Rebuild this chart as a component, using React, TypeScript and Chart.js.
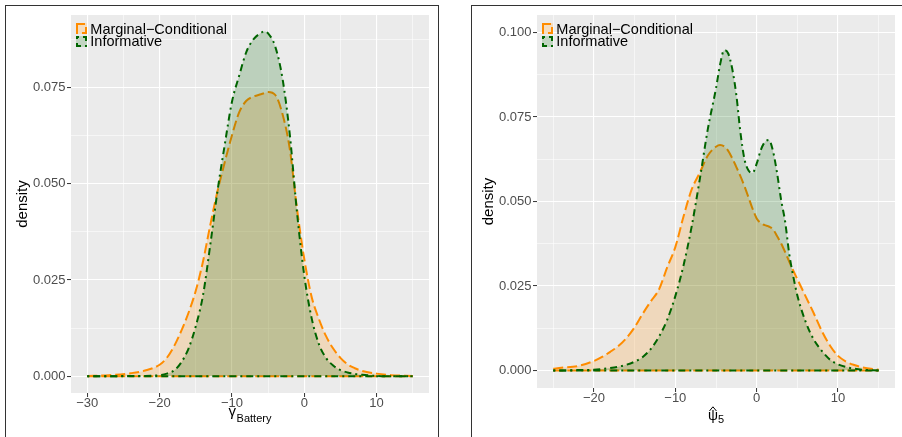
import React, { useEffect, useRef } from "react";
import { Chart, registerables } from "chart.js";

Chart.register(...registerables);

const FONT = '"Liberation Sans", Arial, Helvetica, sans-serif';
const ORANGE = "#FF8C00";
const GREEN = "#006400";
const ORANGE_FILL = "rgba(255,140,0,0.2)";
const GREEN_FILL = "rgba(0,100,0,0.2)";
const PANEL_BG = "#EBEBEB";
const TICK_TEXT = "#4D4D4D";
const TICK_MARK = "#333333";

const seriesNames = ["Marginal\u2212Conditional", "Informative"];
const orangeDash = [10, 4];
const greenDash = [2, 4, 7, 4];

// Densities of gamma_Battery
const gammaX = [
  -30, -27, -24, -22, -20, -19, -18, -17, -16, -15, -14, -13, -12, -11, -10, -9, -8, -7, -6, -5.5, -5, -4,
  -3, -2, -1, 0, 1, 2, 3, 4, 5, 6, 7, 8, 10, 12, 15,
];
const gammaMarginal = [
  0.0001, 0.0003, 0.0008, 0.0015, 0.003, 0.0048, 0.0078, 0.0118, 0.0165, 0.0222, 0.0298, 0.0392, 0.048, 0.0555,
  0.0625, 0.0685, 0.0715, 0.0726, 0.0732, 0.0735, 0.0738, 0.073, 0.068, 0.059, 0.0435, 0.0305, 0.0208, 0.015,
  0.0105, 0.0072, 0.0048, 0.0031, 0.0021, 0.0014, 0.0007, 0.0003, 0.0001,
];
const gammaInformative = [
  0.0, 0.0, 0.0001, 0.0001, 0.0003, 0.0007, 0.0015, 0.0036, 0.0072, 0.013, 0.021, 0.034, 0.048, 0.06, 0.0712,
  0.078, 0.0842, 0.0875, 0.0891, 0.0895, 0.089, 0.0855, 0.0772, 0.0628, 0.0425, 0.0262, 0.0153, 0.0085,
  0.0048, 0.0028, 0.0016, 0.001, 0.0006, 0.0004, 0.0001, 0.0, 0.0,
];
const gammaXMajor = [-30, -20, -10, 0, 10];
const gammaXMinor = [-25, -15, -5, 5, 15];
const gammaYMajor = [0, 0.025, 0.05, 0.075];
const gammaYMinor = [0.0125, 0.0375, 0.0625, 0.0875];
const gammaXRange = [-32.25, 17.25];
const gammaYRange = [-0.00433, 0.09376];

// Densities of psi-hat_5
const psiX = [
  -25, -24, -22, -20, -19, -18, -17, -16, -15, -14, -13, -12, -11, -10, -9, -8, -7, -6, -5, -4.5, -4, -3.5, -3,
  -2.5, -2, -1.5, -1, -0.5, 0, 0.5, 1, 1.5, 2, 2.5, 3, 3.5, 4, 4.5, 5, 6, 7, 8, 9, 10, 11, 12, 13, 15,
];
const psiMarginal = [
  0.0005, 0.0008, 0.0013, 0.0028, 0.004, 0.0055, 0.0072, 0.0096, 0.0128, 0.0168, 0.0205, 0.024, 0.0305, 0.0365,
  0.0455, 0.0535, 0.0585, 0.0636, 0.0662, 0.0667, 0.0663, 0.065, 0.0628, 0.0602, 0.0575, 0.0545, 0.0512, 0.0478,
  0.045, 0.0436, 0.043, 0.0426, 0.0418, 0.0398, 0.0376, 0.035, 0.0322, 0.0295, 0.027, 0.022, 0.017, 0.0117,
  0.0074, 0.0043, 0.0026, 0.0016, 0.0009, 0.0002,
];
const psiInformative = [
  0.0, 0.0, 0.0001, 0.0002, 0.0004, 0.0007, 0.0011, 0.0017, 0.0026, 0.004, 0.0064, 0.01, 0.015, 0.022, 0.031,
  0.0425, 0.0565, 0.0715, 0.0835, 0.0905, 0.0948, 0.0938, 0.0892, 0.0815, 0.0705, 0.0625, 0.0592, 0.0585,
  0.0612, 0.0652, 0.0676, 0.0682, 0.065, 0.0585, 0.0505, 0.044, 0.0345, 0.0278, 0.0222, 0.0145, 0.0092,
  0.0058, 0.0032, 0.0018, 0.001, 0.0005, 0.0002, 0.0,
];
const psiXMajor = [-20, -10, 0, 10];
const psiXMinor = [-25, -15, -5, 5, 15];
const psiYMajor = [0, 0.025, 0.05, 0.075, 0.1];
const psiYMinor = [0.0125, 0.0375, 0.0625, 0.0875];
const psiXRange = [-27, 17];
const psiYRange = [-0.0052, 0.1052];

type Area = { left: number; top: number; right: number; bottom: number };
type TitleDrawer = (ctx: CanvasRenderingContext2D, cx: number, bottom: number) => void;

const fmtX = (v: number) => (v < 0 ? "\u2212" + Math.abs(v) : String(v));
const fmtY = (v: number) => v.toFixed(3);

function drawGammaTitle(ctx: CanvasRenderingContext2D, cx: number, bottom: number) {
  ctx.fillStyle = "#000";
  ctx.textAlign = "left";
  ctx.textBaseline = "alphabetic";
  ctx.font = `15px ${FONT}`;
  const w1 = ctx.measureText("\u03B3").width;
  ctx.font = `11px ${FONT}`;
  const w2 = ctx.measureText("Battery").width;
  const x0 = cx - (w1 + w2 + 0.5) / 2;
  ctx.font = `15px ${FONT}`;
  ctx.fillText("\u03B3", x0, bottom + 22.5);
  ctx.font = `11px ${FONT}`;
  ctx.fillText("Battery", x0 + w1 + 0.5, bottom + 28.5);
}

function drawPsiTitle(ctx: CanvasRenderingContext2D, cx: number, bottom: number) {
  ctx.fillStyle = "#000";
  ctx.strokeStyle = "#000";
  ctx.textAlign = "left";
  ctx.textBaseline = "alphabetic";
  ctx.font = `14px ${FONT}`;
  const w1 = ctx.measureText("\u03C8").width;
  ctx.font = `11px ${FONT}`;
  const w2 = ctx.measureText("5").width;
  const x0 = cx - (w1 + w2) / 2;
  ctx.font = `14px ${FONT}`;
  ctx.fillText("\u03C8", x0, bottom + 32);
  ctx.font = `11px ${FONT}`;
  ctx.fillText("5", x0 + w1, bottom + 35);
  // hat over psi
  const hx = x0 + w1 / 2;
  ctx.lineWidth = 1;
  ctx.setLineDash([]);
  ctx.beginPath();
  ctx.moveTo(hx - 3.5, bottom + 23);
  ctx.lineTo(hx, bottom + 18.8);
  ctx.lineTo(hx + 3.5, bottom + 23);
  ctx.stroke();
}

type PanelProps = {
  left: number;
  width: number;
  height: number;
  plot: Area;
  xs: number[];
  marginal: number[];
  informative: number[];
  xMajor: number[];
  xMinor: number[];
  yMajor: number[];
  yMinor: number[];
  xRange: number[];
  yRange: number[];
  drawXTitle: TitleDrawer;
};

function Panel(p: PanelProps) {
  const ref = useRef<HTMLCanvasElement | null>(null);

  useEffect(() => {
    const canvas = ref.current;
    if (!canvas) return;
    const toPoints = (ys: number[]) => p.xs.map((x, i) => ({ x, y: ys[i] }));
    const baseline = [
      { x: p.xs[0], y: 0 },
      { x: p.xs[p.xs.length - 1], y: 0 },
    ];
    const xTicks = [...p.xMajor, ...p.xMinor].sort((a, b) => a - b);
    const yTicks = [...p.yMajor, ...p.yMinor].sort((a, b) => a - b);
    const isXMajor = (v: number) => p.xMajor.includes(v);
    const isYMajor = (v: number) => p.yMajor.includes(v);

    const curve = {
      pointRadius: 0,
      borderWidth: 2,
      cubicInterpolationMode: "monotone" as const,
      fill: "origin",
    };
    const flat = { pointRadius: 0, borderWidth: 2, fill: false, tension: 0 };

    const overlay = {
      id: "panelDecor",
      beforeDraw(chart: any) {
        const { ctx, chartArea: a } = chart;
        ctx.save();
        ctx.fillStyle = PANEL_BG;
        ctx.fillRect(a.left, a.top, a.right - a.left, a.bottom - a.top);
        ctx.restore();
      },
      afterDraw(chart: any) {
        const { ctx, chartArea: a } = chart;
        ctx.save();
        // legend
        const items = chart.data.datasets.filter((d: any) => d.label);
        items.forEach((d: any, i: number) => {
          const kx = a.left + 5;
          const ky = a.top + 8 + i * 13;
          ctx.setLineDash([]);
          ctx.fillStyle = "#F2F2F2";
          ctx.fillRect(kx, ky, 11, 11);
          ctx.fillStyle = d.backgroundColor;
          ctx.fillRect(kx, ky, 11, 11);
          ctx.strokeStyle = d.borderColor;
          ctx.lineWidth = 2;
          ctx.setLineDash(d.borderDash);
          ctx.beginPath();
          ctx.moveTo(kx + 1, ky + 1);
          ctx.lineTo(kx + 1, ky + 10);
          ctx.lineTo(kx + 10, ky + 10);
          ctx.lineTo(kx + 10, ky + 1);
          ctx.closePath();
          ctx.stroke();
          ctx.setLineDash([]);
          ctx.fillStyle = "#000";
          ctx.font = `14.5px ${FONT}`;
          ctx.textAlign = "left";
          ctx.textBaseline = "alphabetic";
          ctx.fillText(d.label, a.left + 19.3, a.top + 18.7 + i * 12.6);
        });
        // y title
        ctx.save();
        ctx.translate(a.left - 48.5, (a.top + a.bottom) / 2);
        ctx.rotate(-Math.PI / 2);
        ctx.fillStyle = "#000";
        ctx.font = `15px ${FONT}`;
        ctx.textAlign = "center";
        ctx.textBaseline = "middle";
        ctx.fillText("density", 0, 0);
        ctx.restore();
        // x title
        p.drawXTitle(ctx, (a.left + a.right) / 2, a.bottom);
        ctx.restore();
      },
    };

    const gridFor = (isMajor: (v: number) => boolean) => ({
      color: "#FFFFFF",
      lineWidth: (c: any) => (isMajor(c.tick.value) ? 1.1 : 0.55),
      tickColor: (c: any) => (isMajor(c.tick.value) ? TICK_MARK : "rgba(0,0,0,0)"),
      tickWidth: 1,
      tickLength: 4,
      drawTicks: true,
    });

    const chart = new Chart(canvas, {
      type: "line",
      data: {
        datasets: [
          {
            ...curve,
            label: seriesNames[0],
            data: toPoints(p.marginal),
            borderColor: ORANGE,
            backgroundColor: ORANGE_FILL,
            borderDash: orangeDash,
            order: 4,
          },
          {
            ...curve,
            label: seriesNames[1],
            data: toPoints(p.informative),
            borderColor: GREEN,
            backgroundColor: GREEN_FILL,
            borderDash: greenDash,
            order: 2,
          },
          { ...flat, label: "", data: baseline, borderColor: ORANGE, borderDash: orangeDash, order: 3 },
          { ...flat, label: "", data: baseline, borderColor: GREEN, borderDash: greenDash, order: 1 },
        ] as any,
      },
      options: {
        animation: false,
        responsive: false,
        events: [],
        layout: { padding: { left: 0, top: p.plot.top, right: p.width - p.plot.right, bottom: 0 } },
        plugins: { legend: { display: false }, tooltip: { enabled: false } },
        scales: {
          x: {
            type: "linear",
            min: p.xRange[0],
            max: p.xRange[1],
            afterBuildTicks: (s: any) => {
              s.ticks = xTicks.map((v) => ({ value: v }));
            },
            afterFit: (s: any) => {
              s.height = p.height - p.plot.bottom;
            },
            ticks: {
              autoSkip: false,
              maxRotation: 0,
              color: TICK_TEXT,
              font: { family: FONT, size: 13, lineHeight: 1 },
              padding: 0,
              callback: (v: any) => (isXMajor(v) ? fmtX(v) : ""),
            },
            grid: gridFor(isXMajor),
            border: { display: false },
          },
          y: {
            type: "linear",
            min: p.yRange[0],
            max: p.yRange[1],
            afterBuildTicks: (s: any) => {
              s.ticks = yTicks.map((v) => ({ value: v }));
            },
            afterFit: (s: any) => {
              s.width = p.plot.left;
            },
            ticks: {
              autoSkip: false,
              color: TICK_TEXT,
              font: { family: FONT, size: 13 },
              padding: 1.5,
              callback: (v: any) => (isYMajor(v) ? fmtY(v) : ""),
            },
            grid: gridFor(isYMajor),
            border: { display: false },
          },
        },
      } as any,
      plugins: [overlay],
    });
    return () => chart.destroy();
  }, []);

  return (
    <canvas
      ref={ref}
      width={p.width}
      height={p.height}
      style={{ position: "absolute", left: p.left, top: 0, width: p.width, height: p.height }}
    />
  );
}

const frameStyle = (left: number, width: number): React.CSSProperties => ({
  position: "absolute",
  left,
  top: 5,
  width,
  height: 450,
  border: "1px solid #333333",
  boxSizing: "border-box",
  pointerEvents: "none",
});

export default function App() {
  return (
    <div
      style={{
        position: "fixed",
        left: 0,
        top: 0,
        width: 902,
        height: 437,
        overflow: "hidden",
        background: "#FFFFFF",
      }}
    >
      <Panel
        left={0}
        width={450}
        height={437}
        plot={{ left: 71, top: 15, right: 429, bottom: 393 }}
        xs={gammaX}
        marginal={gammaMarginal}
        informative={gammaInformative}
        xMajor={gammaXMajor}
        xMinor={gammaXMinor}
        yMajor={gammaYMajor}
        yMinor={gammaYMinor}
        xRange={gammaXRange}
        yRange={gammaYRange}
        drawXTitle={drawGammaTitle}
      />
      <Panel
        left={450}
        width={452}
        height={437}
        plot={{ left: 87, top: 15, right: 445, bottom: 388 }}
        xs={psiX}
        marginal={psiMarginal}
        informative={psiInformative}
        xMajor={psiXMajor}
        xMinor={psiXMinor}
        yMajor={psiYMajor}
        yMinor={psiYMinor}
        xRange={psiXRange}
        yRange={psiYRange}
        drawXTitle={drawPsiTitle}
      />
      <div style={frameStyle(5, 434)} />
      <div style={frameStyle(471, 460)} />
    </div>
  );
}
